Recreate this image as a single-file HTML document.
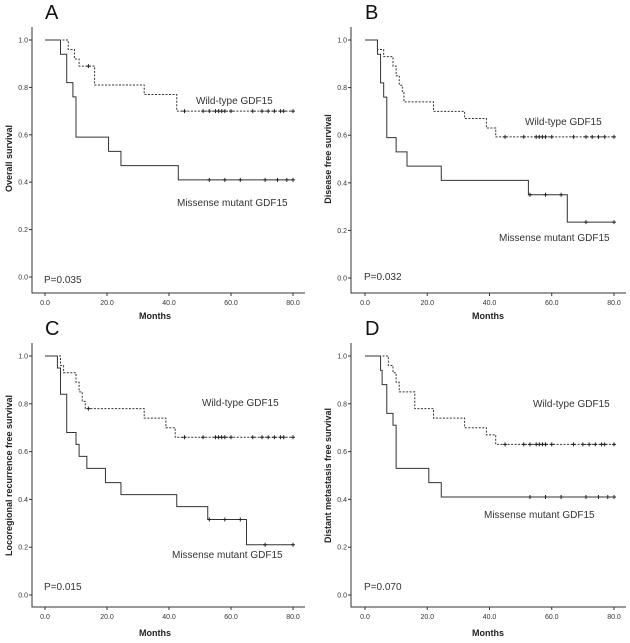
<!DOCTYPE html>
<html><head><meta charset="utf-8"><style>
body{margin:0;background:#fff;}
svg{display:block;font-family:"Liberation Sans",sans-serif;}
</style></head><body>
<svg id="chart" width="630" height="643" viewBox="0 0 630 643"></svg>
<script>
const tickX = [0,20,40,60,80];
const tickXLabels = ["0.0","20.0","40.0","60.0","80.0"];
const tickY = [0,0.2,0.4,0.6,0.8,1.0];
const tickYLabels = ["0.0","0.2","0.4","0.6","0.8","1.0"];

// panel A
const aMutTimes = [0,5,7,9,10,20.5,24.5,43,80];
const aMutSurv  = [1,0.94,0.82,0.76,0.59,0.53,0.47,0.41,0.41];
const aMutCens  = [53,58,63,71,75,78,80];
const aWildTimes = [0,7.5,9.5,11,16,32,42.5,80];
const aWildSurv  = [1,0.96,0.92,0.89,0.81,0.77,0.70,0.70];
const aWildCens  = [14,45,51,53,55,56,57,58,60,67,70,72,74,76,77,80];
// panel B
const bMutTimes = [0,4,5,6,7,10,13.5,24.5,52.5,65,80];
const bMutSurv  = [1,0.94,0.82,0.76,0.59,0.53,0.47,0.41,0.35,0.235,0.235];
const bMutCens  = [53,58,63,71,80];
const bWildTimes = [0,4,6,9,10,11,12,12.5,22,32,39,42,80];
const bWildSurv  = [1,0.96,0.93,0.89,0.85,0.81,0.78,0.74,0.70,0.67,0.63,0.593,0.593];
const bWildCens  = [45,51,55,56,57,58,60,67,71,73,75,77,80];
// panel C
const cMutTimes = [0,4,5,7,10,11,13.5,19.5,24.5,42.5,52.5,65,80];
const cMutSurv  = [1,0.95,0.84,0.68,0.63,0.58,0.53,0.47,0.42,0.37,0.316,0.21,0.21];
const cMutCens  = [53,58,63,71,80];
const cWildTimes = [0,5,6,10,11,12,13,32,39,42,80];
const cWildSurv  = [1,0.96,0.93,0.89,0.85,0.81,0.78,0.74,0.70,0.66,0.66];
const cWildCens  = [14,45,51,55,56,57,58,60,67,70,72,74,76,77,80];
// panel D
const dMutTimes = [0,5,5.5,7,9,10,20.5,24.5,80];
const dMutSurv  = [1,0.94,0.88,0.76,0.71,0.53,0.47,0.41,0.41];
const dMutCens  = [53,58,63,71,75,78,80];
const dWildTimes = [0,7.5,9,10,11,16,22,32,39,42,80];
const dWildSurv  = [1,0.96,0.93,0.89,0.85,0.78,0.74,0.70,0.67,0.63,0.63];
const dWildCens  = [45,51,53,55,56,57,58,60,67,70,72,74,76,77,80];

const panels = [
 {id:'a',letter:'A',ax:32,x0:45,x80:293,y1:40,y0:277,xa:293,top:27,right:305,ytitle:'Overall survival',p:'P=0.035',
  mt:aMutTimes,ms:aMutSurv,mc:aMutCens,wt:aWildTimes,ws:aWildSurv,wc:aWildCens,wl:[196,104],ml:[177,206],pl:[44,283],mo:[155,319]},
 {id:'b',letter:'B',ax:351,x0:365,x80:614,y1:40,y0:278,xa:293,top:27,right:626,ytitle:'Disease free survival',p:'P=0.032',
  mt:bMutTimes,ms:bMutSurv,mc:bMutCens,wt:bWildTimes,ws:bWildSurv,wc:bWildCens,wl:[525,125],ml:[499,241],pl:[364,280],mo:[488,319]},
 {id:'c',letter:'C',ax:32,x0:45,x80:293,y1:356,y0:595,xa:607,top:343,right:305,ytitle:'Locoregional recurrence free survival',p:'P=0.015',
  mt:cMutTimes,ms:cMutSurv,mc:cMutCens,wt:cWildTimes,ws:cWildSurv,wc:cWildCens,wl:[202,406],ml:[172,558],pl:[44,590],mo:[155,636]},
 {id:'d',letter:'D',ax:351,x0:365,x80:614,y1:356,y0:595,xa:607,top:343,right:626,ytitle:'Distant metastasis free survival',p:'P=0.070',
  mt:dMutTimes,ms:dMutSurv,mc:dMutCens,wt:dWildTimes,ws:dWildSurv,wc:dWildCens,wl:[533,407],ml:[484,518],pl:[364,590],mo:[488,636]}
];

const NS='http://www.w3.org/2000/svg';
const svg=document.getElementById('chart');
function mk(tag,attrs,parent,txt){const e=document.createElementNS(NS,tag);for(const k in attrs)e.setAttribute(k,attrs[k]);if(txt!==undefined)e.textContent=txt;parent.appendChild(e);return e;}

panels.forEach(P=>{
  const sx=t=>P.x0+(P.x80-P.x0)*t/80;
  const sy=s=>P.y0-(P.y0-P.y1)*s;
  const g=mk('g',{},svg);
  
  
  const L=mk('text',{x:P.x0,y:P.top-8,'font-size':20,fill:'#111'},g,P.letter);
  
  
  const ax=mk('path',{d:`M${P.ax} ${P.top}V${P.xa}H${P.right}`,stroke:'#333','stroke-width':1,fill:'none'},g);
  
  
  tickX.forEach((t,i)=>{
    mk('line',{x1:sx(t),x2:sx(t),y1:P.xa,y2:P.xa+3,stroke:'#333'},g);
    const tl=mk('text',{x:sx(t),y:P.xa+12,'font-size':7,'text-anchor':'middle',fill:'#333'},g,tickXLabels[i]);
    
    
  });
  tickY.forEach((t,i)=>{
    mk('line',{x1:P.ax-3,x2:P.ax,y1:sy(t),y2:sy(t),stroke:'#333'},g);
    const tl=mk('text',{x:P.ax-4,y:sy(t)+2.5,'font-size':7,'text-anchor':'end',fill:'#333'},g,tickYLabels[i]);
    
    
  });
  const yc=(P.y0+P.y1)/2;
  const yt=mk('text',{x:9,y:yc,'font-size':9,'font-weight':'bold','text-anchor':'middle',fill:'#222',transform:`rotate(-90 ${P.ax-23} ${yc})`},g,P.ytitle);
  yt.setAttribute('x',P.ax-23);yt.setAttribute('y',yc+3);
  
  
  const xt=mk('text',{x:P.mo[0],y:P.mo[1],'font-size':9,'font-weight':'bold','text-anchor':'middle',fill:'#222'},g,'Months');
  
  
  function curve(times,surv,cens,dash,name){
    let d=`M${sx(times[0])} ${sy(surv[0])}`;
    for(let i=1;i<times.length;i++){d+=`H${sx(times[i])}V${sy(surv[i])}`;}
    const p=mk('path',{d,stroke:'#333','stroke-width':1,fill:'none','stroke-dasharray':dash},g);
    
    
    cens.forEach(c=>{
      let s=surv[0];for(let i=0;i<times.length;i++){if(times[i]<=c)s=surv[i];}
      const m=mk('path',{d:`M${sx(c)-2} ${sy(s)}h4M${sx(c)} ${sy(s)-2}v4`,stroke:'#222','stroke-width':1},g);
      
      
    });
  }
  curve(P.wt,P.ws,P.wc,'2 1.5','wild-type-curve-'+P.id);
  curve(P.mt,P.ms,P.mc,'','missense-curve-'+P.id);
  const wl=mk('text',{x:P.wl[0],y:P.wl[1],'font-size':10,fill:'#333'},g,'Wild-type GDF15');
  
  
  const ml=mk('text',{x:P.ml[0],y:P.ml[1],'font-size':10,fill:'#333'},g,'Missense mutant GDF15');
  
  
  const pl=mk('text',{x:P.pl[0],y:P.pl[1],'font-size':10,fill:'#333'},g,P.p);
  
  
});
</script>
</body></html>
